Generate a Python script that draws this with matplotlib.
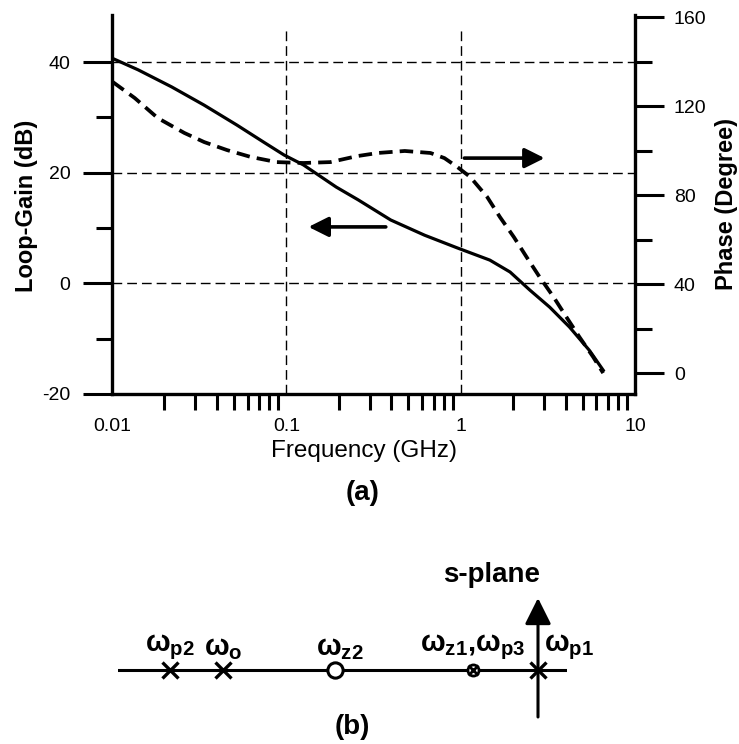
import matplotlib.pyplot as plt
from matplotlib.ticker import FixedLocator, NullFormatter, LogLocator

plt.rcParams['font.family'] = 'Liberation Sans'
plt.rcParams['axes.unicode_minus'] = False
plt.rcParams['mathtext.fontset'] = 'custom'
plt.rcParams['mathtext.rm'] = 'Liberation Sans:bold'
plt.rcParams['mathtext.it'] = 'Liberation Sans:bold'
plt.rcParams['mathtext.bf'] = 'Liberation Sans:bold'

# loop gain magnitude (left axis)
gain_freq = [0.01, 0.0141, 0.022, 0.0338, 0.0521, 0.0743, 0.097, 0.1254,
             0.1933, 0.258, 0.397, 0.621, 0.957, 1.47, 1.92, 2.49, 3.24,
             4.21, 5.47, 6.57]
gain_db = [40.7, 38.6, 35.5, 32.2, 28.6, 25.5, 23.2, 21.4,
           17.4, 15.1, 11.45, 8.7, 6.4, 4.2, 2.05, -1.2, -4.3,
           -7.9, -12.1, -15.7]

# loop gain phase (right axis)
phase_freq = [0.0101, 0.0135, 0.0183, 0.026, 0.0338, 0.0457, 0.0626, 0.0881,
              0.1254, 0.1787, 0.255, 0.335, 0.478, 0.671, 0.807, 0.957,
              1.135, 1.42, 1.68, 2.02, 2.39, 2.84, 3.41, 4.04, 4.80, 5.76,
              6.57]
phase_deg = [130.8, 123.6, 114.6, 107.9, 103.8, 100.2, 97.1, 94.8,
             94.4, 94.8, 97.5, 98.9, 99.8, 98.9, 96.6, 92.6,
             88.1, 79.1, 70.1, 61.1, 52.1, 43.1, 34.2, 25.2, 16.2, 7.2,
             0.0]

gain_ticks = [-20, 0, 20, 40]
phase_ticks = [0, 40, 80, 120, 160]
freq_ticks = [0.01, 0.1, 1, 10]
freq_labels = ['0.01', '0.1', '1', '10']

# s-plane: pole / zero locations along the real axis
pole_sigma = [-3.68, -3.15, 0.0]
pole_names = [r'ω$_{p2}$', r'ω$_{o}$', r'ω$_{p1}$']
zero_sigma = [-2.03]
zero_names = [r'ω$_{z2}$']
pair_sigma = -0.65          # coincident zero/pole
pair_name = r'ω$_{z1}$,ω$_{p3}$'

fig = plt.figure(figsize=(7.39, 7.44), dpi=100)

# ---------------- (a) Bode plot ----------------
ax = fig.add_axes([112 / 739, 1 - 394 / 744, 523 / 739, 379 / 744])
ax.set_xscale('log')
ax.set_xlim(0.01, 10)
ax.set_ylim(-20, 48.5)

for s in ['top', 'right']:
    ax.spines[s].set_visible(False)
for s in ['left', 'bottom']:
    ax.spines[s].set_linewidth(2.4)

ax.yaxis.set_major_locator(FixedLocator(gain_ticks))
ax.yaxis.set_minor_locator(FixedLocator([-10, 10, 30]))
ax.tick_params(axis='y', which='major', direction='out', length=21, width=2.2,
               pad=9, labelsize=14)
ax.tick_params(axis='y', which='minor', direction='out', length=11.5, width=2.2)

ax.xaxis.set_major_locator(FixedLocator(freq_ticks))
ax.set_xticklabels(freq_labels)
ax.xaxis.set_minor_locator(LogLocator(base=10, subs=range(2, 10)))
ax.xaxis.set_minor_formatter(NullFormatter())
ax.tick_params(axis='x', which='major', length=0, pad=17, labelsize=14)
ax.tick_params(axis='x', which='minor', direction='out', length=11.5, width=2.2)

# dashed reference lines
for g in [0, 20, 40]:
    ax.axhline(g, color='black', lw=1, ls=(0, (7, 3.6)), zorder=1)
for f in [0.1, 1]:
    ax.axvline(f, ymax=0.96, color='black', lw=1, ls=(0, (7, 3.6)), zorder=1)

ax.plot(gain_freq, gain_db, color='black', lw=2.3, zorder=3,
        solid_joinstyle='round')

ax2 = ax.twinx()
ax2.set_ylim(-9.4, 160.9)
for s in ['top', 'left', 'bottom']:
    ax2.spines[s].set_visible(False)
ax2.spines['right'].set_linewidth(2.4)
ax2.yaxis.set_major_locator(FixedLocator(phase_ticks))
ax2.yaxis.set_minor_locator(FixedLocator([20, 60, 100, 140]))
ax2.tick_params(axis='y', which='major', direction='out', length=21, width=2.2,
                pad=7, labelsize=14)
ax2.tick_params(axis='y', which='minor', direction='out', length=12, width=2.2)
ax2.plot(phase_freq, phase_deg, color='black', lw=2.7, ls=(0, (3.6, 1.9)),
         zorder=3)

# arrows pointing to the matching axis
ax.annotate('', xy=(0.134, 10.2), xytext=(0.372, 10.2),
            arrowprops=dict(arrowstyle='-|>,head_length=0.6,head_width=0.3',
                            color='black', lw=2.6, mutation_scale=20,
                            shrinkA=0, shrinkB=0))
ax2.annotate('', xy=(3.03, 96.6), xytext=(1.05, 96.6),
             arrowprops=dict(arrowstyle='-|>,head_length=0.6,head_width=0.3',
                             color='black', lw=2.6, mutation_scale=20,
                             shrinkA=0, shrinkB=0))

fig.text(27 / 739, 1 - 206 / 744, 'Loop-Gain (dB)', rotation=90,
         ha='center', va='center', fontsize=17, fontweight='bold')
fig.text(727 / 739, 1 - 204 / 744, 'Phase (Degree)', rotation=90,
         ha='center', va='center', fontsize=17, fontweight='bold')
fig.text(364 / 739, 1 - 451 / 744, 'Frequency (GHz)',
         ha='center', va='center', fontsize=17.5)
fig.text(363 / 739, 1 - 493 / 744, '(a)', ha='center', va='center',
         fontsize=20, fontweight='bold')

# ---------------- (b) s-plane ----------------
sigma_min, sigma_max = -4.2, 0.29
bx = fig.add_axes([118 / 739, 1 - 720 / 744, 449 / 739, 130 / 744])
bx.set_xlim(sigma_min, sigma_max)
bx.set_ylim(-0.5, 0.8)
bx.axis('off')

bx.plot([sigma_min, sigma_max], [0, 0], color='black', lw=2.2, zorder=1)
bx.annotate('', xy=(0, 0.72), xytext=(0, -0.47),
            arrowprops=dict(arrowstyle='-|>,head_length=0.8,head_width=0.4',
                            color='black', lw=2.2, mutation_scale=20,
                            shrinkA=0, shrinkB=0))

bx.plot(pole_sigma, [0] * len(pole_sigma), 'x', color='black', ms=11,
        mew=2.4, zorder=3)
bx.plot(zero_sigma, [0] * len(zero_sigma), 'o', color='black', mfc='white',
        ms=11, mew=2.2, zorder=3)
bx.plot([pair_sigma], [0], 'o', color='black', mfc='white', ms=8, mew=2,
        zorder=3)
bx.plot([pair_sigma], [0], 'x', color='black', ms=7, mew=2, zorder=4)

label_kw = dict(va='bottom', fontsize=21, fontweight='bold')
for s, name in zip(pole_sigma[:2], pole_names[:2]):
    bx.text(s, 0.08, name, ha='center', **label_kw)
bx.text(pole_sigma[2] + 0.06, 0.08, pole_names[2], ha='left', **label_kw)
for s, name in zip(zero_sigma, zero_names):
    bx.text(s + 0.05, 0.08, name, ha='center', **label_kw)
bx.text(pair_sigma, 0.08, pair_name, ha='center', **label_kw)

bx.text(-0.46, 0.95, 's-plane', ha='center', va='center', fontsize=20,
        fontweight='bold')
bx.text(-1.86, -0.57, '(b)', ha='center', va='center', fontsize=20,
        fontweight='bold')

fig.savefig('out.png', dpi=100)
